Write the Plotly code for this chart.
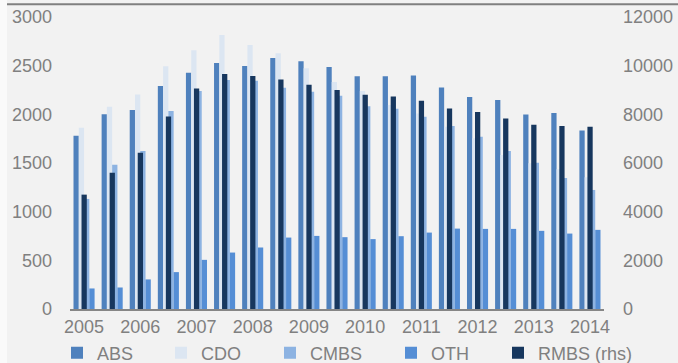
import plotly.graph_objects as go

# half-year periods, labels shown once per year
periods = [f"{y} H{h}" for y in range(2005, 2015) for h in (1, 2)][:19]
tick_vals = periods[::2]
tick_text = [p[:4] for p in tick_vals]

abs_vals = [1780, 2000, 2045, 2290, 2426, 2528, 2497, 2578, 2546, 2486,
            2390, 2390, 2400, 2276, 2177, 2146, 1999, 2013, 1835]
cdo_vals = [1862, 2077, 2204, 2494, 2658, 2815, 2713, 2628, 2474, 2333,
            2240, 2095, 2009, 1872, 1753, 1582, 1497, 1435, 1353]
cmbs_vals = [1131, 1483, 1623, 2033, 2241, 2354, 2344, 2272, 2231, 2190,
             2084, 2057, 1975, 1879, 1770, 1623, 1503, 1346, 1223]
oth_vals = [211, 221, 304, 379, 505, 580, 632, 734, 751, 738,
            718, 748, 785, 826, 823, 823, 803, 775, 813]
rmbs_vals = [4700, 5600, 6420, 7915, 9063, 9661, 9580, 9432, 9211, 9005,
             8800, 8735, 8555, 8243, 8091, 7833, 7572, 7517, 7488]

GREY = "#808080"
FONT = "Liberation Sans, Arial, sans-serif"
W, H = 678, 363
w = 0.1875

fig = go.Figure()
series = [
    ("ABS", abs_vals, "#4f81bd", -2 * w, "y"),
    ("CDO", cdo_vals, "#dce6f2", -w, "y"),
    ("CMBS", cmbs_vals, "#8db3e2", 0, "y"),
    ("OTH", oth_vals, "#558ed5", w, "y"),
    ("RMBS (rhs)", rmbs_vals, "#17375e", -0.09, "y2"),
]
legend_left = [77, 181, 290, 411, 518]  # px of each legend swatch

legends = {}
for i, (name, vals, color, off, ax) in enumerate(series):
    lg = "legend" if i == 0 else f"legend{i + 1}"
    fig.add_trace(go.Bar(x=periods, y=vals, name=name, marker_color=color,
                         marker_line_width=0, width=w, offset=off,
                         yaxis=ax, legend=lg))
    legends[lg] = dict(orientation="h", xref="container", yref="container",
                       x=(legend_left[i] - 20) / W, xanchor="left",
                       y=(H - 353) / H, yanchor="middle",
                       bgcolor="rgba(0,0,0,0)", borderwidth=0,
                       font=dict(size=18, color=GREY, family=FONT))

fig.update_layout(
    width=W, height=H,
    margin=dict(l=70, r=74, t=17, b=54, autoexpand=False),
    paper_bgcolor="#f2f2f2", plot_bgcolor="#f2f2f2",
    font=dict(family=FONT, size=18, color=GREY),
    barmode="overlay",
    showlegend=True,
    xaxis=dict(type="category", range=[-0.5, 18.5], tickvals=tick_vals,
               ticktext=tick_text, showline=True, linecolor="#868686",
               linewidth=2, ticks="", showgrid=False, automargin=False,
               ticklabelstandoff=0),
    yaxis=dict(range=[0, 3000], dtick=500, showgrid=False, zeroline=False,
               showline=False, ticks="", automargin=False,
               ticklabelstandoff=17),
    yaxis2=dict(range=[0, 12000], dtick=2000, overlaying="y", side="right",
                showgrid=False, zeroline=False, showline=False, ticks="",
                tickformat="d", automargin=False, ticklabelstandoff=18),
    shapes=[
        dict(type="rect", xref="paper", yref="paper", x0=-0.14, x1=-0.118,
             y0=-0.25, y1=1.1, fillcolor="#fafafa", line_width=0),
        dict(type="line", xref="paper", yref="paper", x0=-0.118, x1=1.15,
             y0=1.0435, y1=1.0435, line=dict(color="#808080", width=2)),
    ],
    **legends,
)

# page body has an 8px default margin; drop it so the figure sits at 0,0
fig.write_html("out.html", config={"displayModeBar": False},
               post_script="document.body.style.margin='0';")
